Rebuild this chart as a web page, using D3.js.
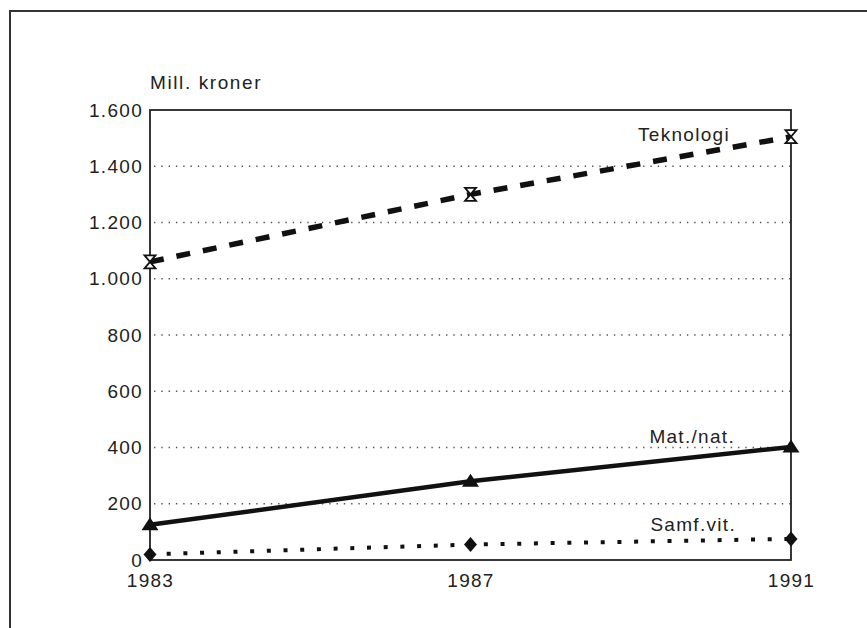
<!DOCTYPE html>
<html lang="no">
<head>
  <meta charset="UTF-8">
  <script src="https://cdn.jsdelivr.net/npm/d3@7/dist/d3.min.js"></script>
  <title>Mill. kroner</title>
  <style>
    body { margin: 0; background: #fff; }
    svg { display: block; }
    text {
      font-family: "Liberation Sans", Arial, sans-serif;
      font-size: 19px;
      letter-spacing: 1.3px;
      fill: #222;
    }
    .grid line {
      stroke: #555;
      stroke-width: 1.4;
      stroke-dasharray: 1.4, 5.9;
    }
    .frame {
      fill: none;
      stroke: #222;
      stroke-width: 1.8;
    }
  </style>
</head>
<body>
<div id="chart"></div>
<script>
  // data
  var years = [1983, 1987, 1991];
  var teknologi = [1060, 1300, 1505];
  var matNat = [125, 280, 402];
  var samfVit = [20, 55, 75];
  var yTicks = [0, 200, 400, 600, 800, 1000, 1200, 1400, 1600];
  var seriesNames = ["Teknologi", "Mat./nat.", "Samf.vit."];
  var yTitle = "Mill. kroner";

  var width = 867, height = 628;
  var plotLeft = 150, plotRight = 791, plotTop = 110, plotBottom = 560;

  var svg = d3.select("#chart").append("svg")
    .attr("width", width)
    .attr("height", height);

  // outer border of the figure (runs off the bottom and right)
  svg.append("path")
    .attr("d", "M10,640 L10,11 L880,11")
    .attr("fill", "none")
    .attr("stroke", "#333")
    .attr("stroke-width", 2);

  var x = d3.scaleLinear().domain([1983, 1991]).range([plotLeft, plotRight]);
  var y = d3.scaleLinear().domain([0, 1600]).range([plotBottom, plotTop]);

  // dotted gridlines
  svg.append("g")
    .attr("class", "grid")
    .selectAll("line")
    .data(yTicks.filter(function(d) { return d > 0 && d < 1600; }))
    .enter().append("line")
    .attr("x1", plotLeft + 4).attr("x2", plotRight)
    .attr("y1", function(d) { return y(d); })
    .attr("y2", function(d) { return y(d); });

  // plot frame
  svg.append("rect")
    .attr("class", "frame")
    .attr("x", plotLeft).attr("y", plotTop)
    .attr("width", plotRight - plotLeft).attr("height", plotBottom - plotTop);

  // y axis labels
  var fmt = function(d) { return d3.format(",")(d).replace(",", "."); };
  svg.append("g")
    .attr("transform", "translate(" + plotLeft + ",0)")
    .call(d3.axisLeft(y).tickValues(yTicks).tickFormat(fmt).tickSize(0).tickPadding(7))
    .call(function(g) {
      g.select(".domain").remove();
      g.selectAll("text")
        .attr("fill", "#222")
        .style("font-family", "'Liberation Sans', Arial, sans-serif")
        .style("font-size", "19px");
    });

  // x axis labels
  svg.append("g")
    .attr("transform", "translate(0," + plotBottom + ")")
    .call(d3.axisBottom(x).tickValues(years).tickFormat(d3.format("d")).tickSize(0).tickPadding(14))
    .call(function(g) {
      g.select(".domain").remove();
      g.selectAll("text")
        .attr("fill", "#222")
        .style("font-family", "'Liberation Sans', Arial, sans-serif")
        .style("font-size", "19px");
    });

  svg.append("text")
    .attr("x", plotLeft)
    .attr("y", 89)
    .style("letter-spacing", "1.6px")
    .text(yTitle);

  var line = d3.line()
    .x(function(d, i) { return x(years[i]); })
    .y(function(d) { return y(d); });

  // Teknologi - dashed
  svg.append("path")
    .datum(teknologi)
    .attr("d", line)
    .attr("fill", "none")
    .attr("stroke", "#111")
    .attr("stroke-width", 5.5)
    .attr("stroke-dasharray", "14,13");

  // Mat./nat. - solid
  svg.append("path")
    .datum(matNat)
    .attr("d", line)
    .attr("fill", "none")
    .attr("stroke", "#111")
    .attr("stroke-width", 4.5);

  // Samf.vit. - square dots
  svg.append("path")
    .datum(samfVit)
    .attr("d", line)
    .attr("fill", "none")
    .attr("stroke", "#111")
    .attr("stroke-width", 4)
    .attr("stroke-dasharray", "4,12.7");

  // markers: hourglass
  svg.selectAll(".tek")
    .data(teknologi)
    .enter().append("path")
    .attr("class", "tek")
    .attr("transform", function(d, i) { return "translate(" + x(years[i]) + "," + y(d) + ")"; })
    .attr("d", "M-5.5,-6.5 L5.5,-6.5 L-5.5,6.5 L5.5,6.5 Z")
    .attr("fill", "#fff")
    .attr("stroke", "#111")
    .attr("stroke-width", 1.8);

  // markers: filled triangle
  svg.selectAll(".mat")
    .data(matNat)
    .enter().append("path")
    .attr("class", "mat")
    .attr("transform", function(d, i) { return "translate(" + x(years[i]) + "," + y(d) + ")"; })
    .attr("d", "M0,-7.5 L8.5,5.5 L-8.5,5.5 Z")
    .attr("fill", "#111");

  // markers: filled diamond
  svg.selectAll(".samf")
    .data(samfVit)
    .enter().append("path")
    .attr("class", "samf")
    .attr("transform", function(d, i) { return "translate(" + x(years[i]) + "," + y(d) + ")"; })
    .attr("d", "M0,-7.5 L6.5,0 L0,7.5 L-6.5,0 Z")
    .attr("fill", "#111");

  // series labels, near the end of each line
  var lastVals = [teknologi[2], matNat[2], samfVit[2]];
  var labelOffsets = [4, -4, -8];
  var labelShift = [61, 56, 55];
  svg.selectAll(".lbl")
    .data(seriesNames)
    .enter().append("text")
    .attr("class", "lbl")
    .attr("text-anchor", "end")
    .attr("x", function(d, i) { return x(1991) - labelShift[i]; })
    .attr("y", function(d, i) { return y(lastVals[i]) + labelOffsets[i]; })
    .text(function(d) { return d; });
</script>
</body>
</html>
